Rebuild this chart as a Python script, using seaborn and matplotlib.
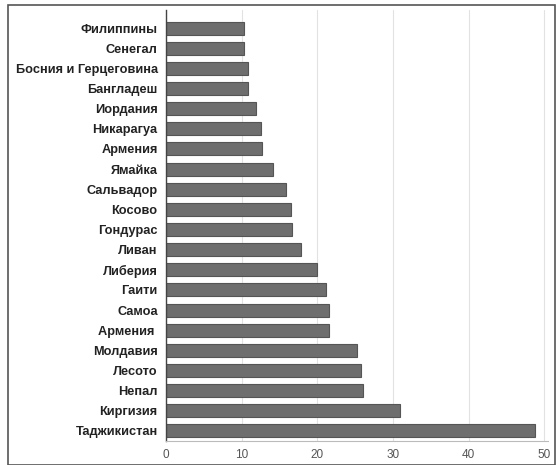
import pandas as pd
import seaborn as sns
import matplotlib.pyplot as plt
from matplotlib.patches import Rectangle

countries = [
    "Филиппины", "Сенегал", "Босния и Герцеговина", "Бангладеш", "Иордания",
    "Никарагуа", "Армения", "Ямайка", "Сальвадор", "Косово", "Гондурас",
    "Ливан", "Либерия", "Гаити", "Самоа", "Армения ", "Молдавия", "Лесото",
    "Непал", "Киргизия", "Таджикистан",
]
values = [
    10.3, 10.3, 10.9, 10.9, 11.9, 12.5, 12.7, 14.1, 15.8, 16.5, 16.6,
    17.8, 20.0, 21.2, 21.5, 21.5, 25.2, 25.8, 26.1, 31.0, 48.8,
]
xticks = [0, 10, 20, 30, 40, 50]

df = pd.DataFrame({"country": countries, "value": values})

sns.set_theme(style="white")
plt.rcParams["font.family"] = ["Liberation Sans", "DejaVu Sans"]

fig = plt.figure(figsize=(5.56, 4.65), dpi=100)
ax = fig.add_axes([0.2986, 0.0516, 0.687, 0.927])

sns.barplot(data=df, y="country", x="value", color="#6e6e6e", saturation=1,
            width=0.65, edgecolor="#555555", linewidth=0.8, ax=ax)

ax.set_xlim(0, 50.5)
ax.set_ylim(20.5, -0.9)
ax.set_xticks(xticks)
ax.set_xticklabels([str(t) for t in xticks], color="#555555", fontsize=8.5)
ax.tick_params(axis="y", labelsize=9.2, colors="#222222", length=0, pad=6)
ax.tick_params(axis="x", length=0, pad=6)
for lbl in ax.get_yticklabels():
    lbl.set_fontweight("bold")
ax.xaxis.grid(True, color="#e2e2e2", linewidth=0.8)
ax.set_axisbelow(True)
ax.set_xlabel("")
ax.set_ylabel("")

for side in ["top", "right"]:
    ax.spines[side].set_visible(False)
ax.spines["left"].set_color("#444444")
ax.spines["left"].set_linewidth(1.0)
ax.spines["bottom"].set_color("#bbbbbb")
ax.spines["bottom"].set_linewidth(0.8)

# outer frame around the whole chart
fig.patches.append(Rectangle((0.014, 0.0), 0.985, 0.989, transform=fig.transFigure,
                             fill=False, edgecolor="#555555", linewidth=1.2))

fig.savefig("out.png", dpi=100)
